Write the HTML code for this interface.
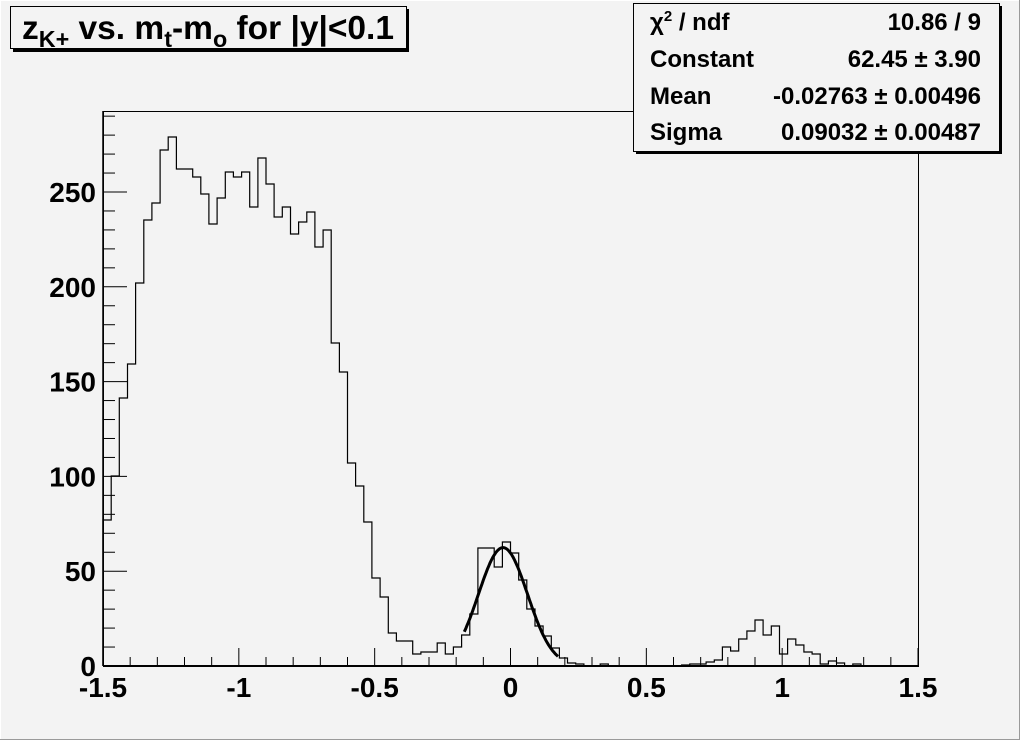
<!DOCTYPE html>
<html><head><meta charset="utf-8"><style>
html,body{margin:0;padding:0;background:#f3f3f3;}
svg{display:block;font-family:"Liberation Sans",Arial,sans-serif;font-weight:bold;}
</style></head><body>
<svg id="s" width="1020" height="740" viewBox="0 0 1020 740" xmlns="http://www.w3.org/2000/svg">
<rect x="0" y="0" width="1020" height="740" fill="#f3f3f3"/>
<rect x="0.5" y="0.5" width="1019" height="739" fill="none" stroke="#ffffff" stroke-width="1"/>
<rect x="1019" y="0" width="1" height="740" fill="#9a9a9a"/>
<rect x="0" y="739" width="1020" height="1" fill="#9a9a9a"/>
<rect x="103.5" y="111.5" width="815" height="555" fill="none" stroke="#000" stroke-width="1"/>
<g id="g"></g>
<!-- title -->
<rect x="13" y="9" width="396" height="43" fill="#000"/>
<rect x="10.5" y="6.5" width="396" height="42" fill="#f3f3f3" stroke="#000" stroke-width="1"/>
<text x="22" y="39" font-size="33" textLength="372" lengthAdjust="spacingAndGlyphs">z<tspan font-size="23" dy="8">K+</tspan><tspan dy="-8"> vs. m</tspan><tspan font-size="23" dy="8">t</tspan><tspan dy="-8">-m</tspan><tspan font-size="23" dy="8">o</tspan><tspan dy="-8"> for |y|&lt;0.1</tspan></text>
<!-- stats -->
<rect x="636" y="6" width="366" height="148" fill="#000"/>
<rect x="633.5" y="3.5" width="366" height="148" fill="#f3f3f3" stroke="#000" stroke-width="1"/>
<g font-size="24">
<text x="650" y="30">χ<tspan font-size="15" dy="-9">2</tspan><tspan dy="9"> / ndf</tspan></text>
<text x="981" y="30" text-anchor="end">10.86 / 9</text>
<text x="650" y="67">Constant</text>
<text x="981" y="67" text-anchor="end">62.45 ± 3.90</text>
<text x="650" y="104">Mean</text>
<text x="981" y="104" text-anchor="end">-0.02763 ± 0.00496</text>
<text x="650" y="140">Sigma</text>
<text x="981" y="140" text-anchor="end">0.09032 ± 0.00487</text>
</g>
</svg>
<script>
var ys=[520,476,398,364,283,220,203,150,137,169,169,177,194,224,198,172,177,172,207,158,184,217,207,234,222,212,247,230,343,372,
463,486,522,578,597,633,641,641,654,652,652,643,654,647,635,614,548,548,567,542,553,580,609,626,636,648,658,663,664,666,
666,664,666,666,666,666,666,666,666,666,666,665,664,664,662,660,647,651,639,631,620,635,626,654,639,645,652,654,664,661,663,666,664,666,666,666,666,666,666,666];
var X0=103,W=8.15,Y0=666,S=1.896,ns="http://www.w3.org/2000/svg",g=document.getElementById('g');
function el(t,a,txt){var e=document.createElementNS(ns,t);for(var k in a)e.setAttribute(k,a[k]);if(txt!=null)e.textContent=txt;g.appendChild(e);return e;}
var d="M"+X0+","+Y0;
for(var i=0;i<100;i++){var xa=X0+i*W,xb=X0+(i+1)*W;d+=" L"+xa.toFixed(1)+","+ys[i]+" L"+xb.toFixed(1)+","+ys[i];}
d+=" L918,"+Y0;
el('path',{d:d,fill:'none',stroke:'#000','stroke-width':1.2});
var gd="";for(var x=-0.17;x<=0.18;x+=0.005){var px=X0+(x+1.5)*271.67,py=Y0-62.45*Math.exp(-0.5*Math.pow((x+0.02763)/0.09032,2))*S;gd+=(gd?" L":"M")+px.toFixed(1)+","+py.toFixed(1);}
el('path',{d:gd,fill:'none',stroke:'#000','stroke-width':3});
el('line',{x1:103,y1:666,x2:918,y2:666,stroke:'#000','stroke-width':2});
el('line',{x1:103,y1:111,x2:103,y2:666,stroke:'#000','stroke-width':1.5});
for(var k=0;k<=30;k++){var px=X0+k*27.167,maj=(k%5==0);el('line',{x1:px,y1:666,x2:px,y2:666-(maj?18:9),stroke:'#000','stroke-width':1});
 if(maj){var v=(-1.5+k*0.1);var s=(Math.round(v*10)/10).toString();el('text',{x:px,y:697,'font-size':28,'text-anchor':'middle'},s);}}
for(var v=0;v<=290;v+=10){var py=Y0-v*S,maj=(v%50==0);el('line',{x1:103,y1:py,x2:103+(maj?24:12),y2:py,stroke:'#000','stroke-width':1});
 if(maj)el('text',{x:96,y:py+10,'font-size':28,'text-anchor':'end'},v.toString());}
</script>
</body></html>
